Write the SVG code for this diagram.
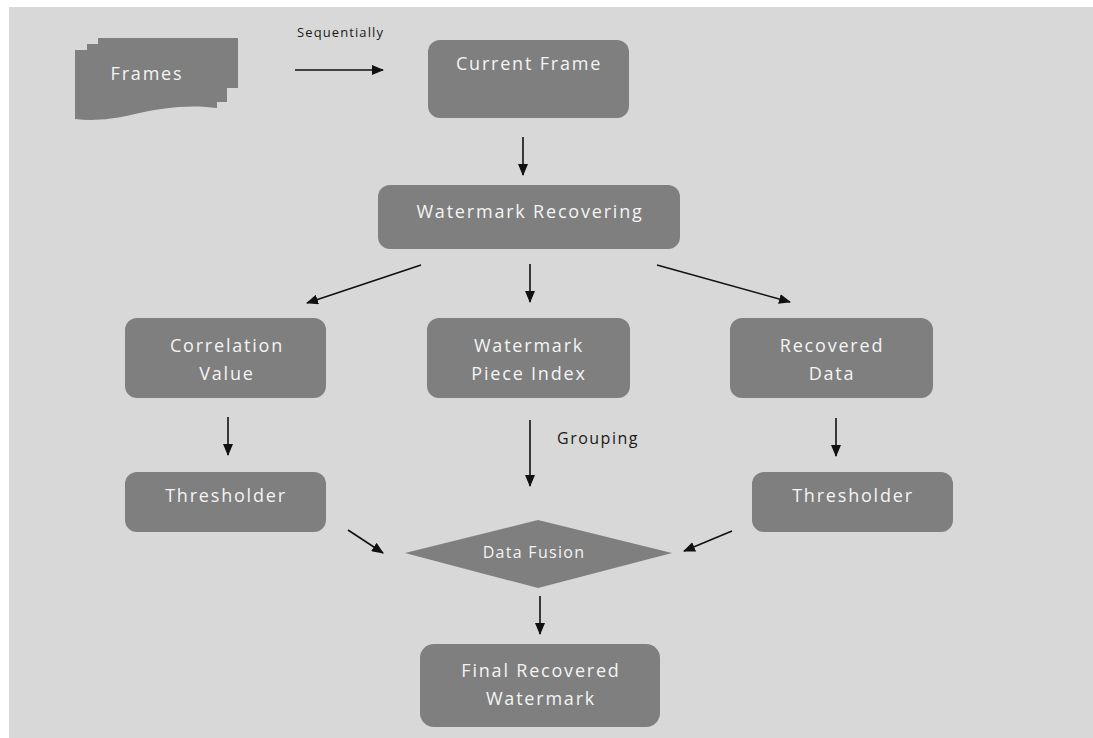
<svg xmlns="http://www.w3.org/2000/svg" width="1093" height="738" viewBox="0 0 1093 738">
  <defs>
    <marker id="arrow" markerWidth="12" markerHeight="10" refX="11" refY="5" orient="auto" markerUnits="userSpaceOnUse">
      <path d="M0,0 L12,5 L0,10 Z" fill="#111"/>
    </marker>
    <style>
      .box { fill: #7f7f7f; }
      .lbl { font-family: "Open Sans", "DejaVu Sans", sans-serif; font-size: 18px; fill: #f4f4f4; text-anchor: middle; letter-spacing: 1.8px; }
      .note { font-family: "Open Sans", "DejaVu Sans", sans-serif; fill: #1a1a1a; }
      .edge { stroke: #111; stroke-width: 1.6; fill: none; marker-end: url(#arrow); }
    </style>
  </defs>

  <!-- page -->
  <rect x="0" y="0" width="1093" height="738" fill="#ffffff"/>
  <rect x="9" y="7" width="1084" height="731" fill="#d8d8d8"/>

  <!-- stacked frames document -->
  <g id="frames">
    <path class="box" d="M98,38 H238 V88 H98 Z"/>
    <path class="box" d="M87,44 H227 V102 H87 Z"/>
    <path class="box" d="M75,50 H217 V108 C190,104 160,108 135,114 C110,120 92,121 75,119 Z"/>
    <text class="lbl" x="147" y="80">Frames</text>
  </g>

  <g id="current-frame">
    <rect class="box" x="428" y="40" width="201" height="78" rx="12"/>
    <text class="lbl" x="529" y="70">Current Frame</text>
  </g>

  <g id="watermark-recovering">
    <rect class="box" x="378" y="185" width="302" height="64" rx="12"/>
    <text class="lbl" x="530" y="218">Watermark Recovering</text>
  </g>

  <g id="correlation-value">
    <rect class="box" x="125" y="318" width="201" height="80" rx="12"/>
    <text class="lbl" x="227" y="352">Correlation</text>
    <text class="lbl" x="227" y="380">Value</text>
  </g>

  <g id="watermark-piece-index">
    <rect class="box" x="427" y="318" width="203" height="80" rx="12"/>
    <text class="lbl" x="529" y="352">Watermark</text>
    <text class="lbl" x="529" y="380">Piece Index</text>
  </g>

  <g id="recovered-data">
    <rect class="box" x="730" y="318" width="203" height="80" rx="12"/>
    <text class="lbl" x="832" y="352">Recovered</text>
    <text class="lbl" x="832" y="380">Data</text>
  </g>

  <g id="thresholder-left">
    <rect class="box" x="125" y="472" width="201" height="60" rx="12"/>
    <text class="lbl" x="226" y="502">Thresholder</text>
  </g>

  <g id="thresholder-right">
    <rect class="box" x="752" y="472" width="201" height="60" rx="12"/>
    <text class="lbl" x="853" y="502">Thresholder</text>
  </g>

  <g id="data-fusion">
    <path class="box" d="M405,553 L538,520 L672,553 L538,588 Z"/>
    <text class="lbl" x="534" y="558" style="font-size:16px;letter-spacing:1.3px">Data Fusion</text>
  </g>

  <g id="final-recovered-watermark">
    <rect class="box" x="420" y="644" width="240" height="83" rx="14"/>
    <text class="lbl" x="541" y="677">Final Recovered</text>
    <text class="lbl" x="541" y="705">Watermark</text>
  </g>

  <!-- connectors -->
  <g id="connectors">
    <line class="edge" x1="295" y1="70" x2="383" y2="70"/>
    <line class="edge" x1="523" y1="137" x2="523" y2="175"/>
    <line class="edge" x1="421" y1="265" x2="307" y2="303"/>
    <line class="edge" x1="530" y1="264" x2="530" y2="302"/>
    <line class="edge" x1="657" y1="265" x2="790" y2="302"/>
    <line class="edge" x1="228" y1="417" x2="228" y2="455"/>
    <line class="edge" x1="530" y1="420" x2="530" y2="486"/>
    <line class="edge" x1="836" y1="418" x2="836" y2="456"/>
    <line class="edge" x1="348" y1="530" x2="383" y2="553"/>
    <line class="edge" x1="732" y1="531" x2="684" y2="551"/>
    <line class="edge" x1="540" y1="596" x2="540" y2="634"/>
    <text class="note" x="297" y="37" style="font-size:13px;letter-spacing:1.1px">Sequentially</text>
    <text class="note" x="557" y="444" style="font-size:16px;letter-spacing:1.5px">Grouping</text>
  </g>
</svg>
